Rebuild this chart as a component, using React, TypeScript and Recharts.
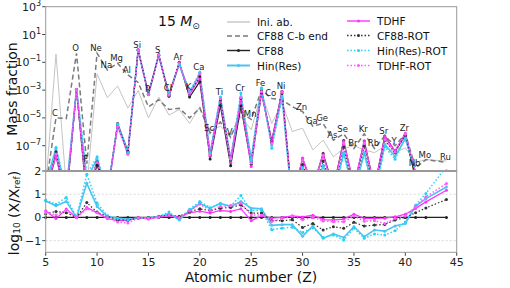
import React from 'react';
import { LineChart, Line, XAxis, YAxis, ReferenceLine, LabelList } from 'recharts';

// atomic numbers shown on the x axis
const Z = [5, 6, 7, 8, 9, 10, 11, 12, 13, 14, 15, 16, 17, 18, 19, 20, 21, 22, 23, 24,
  25, 26, 27, 28, 29, 30, 31, 32, 33, 34, 35, 36, 37, 38, 39, 40, 41, 42, 43, 44];

// element labels ('' = not labelled)
const ELEMENTS = ['', 'C', '', 'O', 'F', 'Ne', 'Na', 'Mg', 'Al', 'Si', 'P', 'S', 'Cl', 'Ar', 'K', 'Ca',
  'Sc', 'Ti', 'V', 'Cr', 'Mn', 'Fe', 'Co', 'Ni', '', 'Zn', 'Ga', 'Ge', 'As', 'Se', 'Br', 'Kr', 'Rb',
  'Sr', 'Y', 'Zr', 'Nb', 'Mo', '', 'Ru'];

// log10 mass fraction, initial abundances
const INI_AB = [-10, -0.4, -10, -10, -10, -1.83, -3.54, -2.7, -4.3, -3.03, -5.0, -3.5, -4.8, -4.4, -5.4, -4.2,
  -5.9, -5.6, -6.3, -4.9, -5.86, -3.2, -5.4, -3.94, -5.98, -5.74, -7.3, -6.6, -7.8, -7.2, -7.0, -7.3, -7.5,
  -7.05, -7.5, -7.15, -8.2, -8.0, null, -8.1];

// log10 mass fraction, CF88 at end of C burning
const CB_END = [-10, -5.0, -5.05, -0.35, -8.3, -0.35, -1.55, -1.07, -1.9, -2.45, -4.2, -3.7, -4.4, -4.3, -5.0, -4.3,
  -6.1, -5.3, -6.4, -4.6, -5.1, -3.0, -3.6, -3.7, -4.2, -4.55, -5.6, -5.4, -6.6, -6.15, -7.2, -6.15, -7.2,
  -6.3, -7.0, -6.15, -8.6, -8.0, null, -8.2];

// log10 mass fraction, CF88 reference run
const CF88 = [-10.5, -7.7, -11, -2.95, -10.9, -8.4, -10.5, -5.4, -7.4, -0.1, -3.27, -0.5, -3.45, -1.05, -3.5, -2.4,
  -7.95, -4.1, -8.45, -4.15, -8.36, -3.2, -6.65, -3.1, -11, -7.92, -10, -7.56, -10, -6.63, -10, -6.66, -10,
  -6.31, -7.4, -6.24, -9.4, -11, null, -11];

// log10(X / X_ref) for each rate set (reference = CF88)
const HIN = [0.71, 0.5, 0.69, 0, 1.47, 0.47, 0.04, -0.03, -0.08, -0.03, -0.02, 0.03, 0.16, -0.11, 0.3, 0.6,
  0.4, 0.61, 0.47, 0.69, 0.4, 0.37, -0.34, -0.31, -0.31, -0.81, -0.37, -0.9, -0.71, -0.86, -0.4, -0.83, -0.54,
  -0.59, -0.37, -0.26, 0.49, 0.81, null, 1.31];
const TDHF = [0.29, -0.05, 0.36, 0, 0.43, 0.21, -0.05, -0.14, -0.14, 0, -0.07, 0.02, 0.08, 0.03, 0.2, 0.27,
  0.19, 0.3, 0.26, 0.37, -0.14, 0.07, -0.03, 0, 0.07, 0.02, 0.1, -0.09, -0.11, -0.07, 0.14, -0.04, -0.04,
  -0.03, 0.03, 0.14, 0.39, 0.67, null, 1.17];
const CF88_ROT = [0.15, 0.26, 0.2, 0, 0.64, 0.23, 0.05, -0.1, -0.11, -0.03, -0.02, 0.05, 0.1, 0.05, 0.25, 0.37,
  0.29, 0.4, 0.43, 0.54, 0.19, 0.19, -0.14, -0.14, -0.1, -0.43, -0.26, -0.54, -0.4, -0.47, -0.21, -0.37, -0.33,
  -0.3, -0.11, 0, 0.2, 0.41, null, 0.77];
const HIN_ROT = [0.75, 0.57, 0.86, 0, 1.86, 0.61, 0.08, -0.05, -0.1, -0.03, -0.02, 0.03, 0.23, -0.08, 0.35, 0.69,
  0.42, 0.58, 0.5, 0.94, 0.3, 0.3, -0.53, -0.46, -0.42, -0.65, -0.45, -0.85, -0.75, -0.97, -0.45, -0.9, -0.71,
  -0.76, -0.57, -0.2, 0.53, 1.03, null, 2.2];
const TDHF_ROT = [0.2, 0.11, 0.3, 0, 0.37, 0.2, 0, -0.2, -0.24, -0.02, -0.04, 0.02, 0.1, 0, 0.28, 0.57,
  0.3, 0.47, 0.51, 0.61, 0.11, 0.1, -0.17, -0.05, 0.05, -0.1, 0, -0.15, -0.18, -0.19, 0.06, -0.16, -0.14,
  -0.26, -0.05, 0.06, 0.45, 0.89, null, 1.46];

const X_TICKS = [5, 10, 15, 20, 25, 30, 35, 40, 45];
const TOP_TICKS = [1e3, 1e1, 1e-1, 1e-3, 1e-5, 1e-7];
const RATIO_TICKS = [-1, 0, 1, 2];
const LOG_LO = Math.pow(10, -8.82);

const C = {
  ini: '#c4c4c4', cb: '#7a7a7a', cf88: '#222222', hin: '#4fc3f0',
  tdhf: '#ff33ff', cf88rot: '#333333', hinrot: '#22d4f6', tdhfrot: '#ff5cff',
};
const FONT = 'DejaVu Sans';

const pw = (v) => (v == null ? null : Math.pow(10, v));

const topData = Z.map((z, i) => {
  const base = CF88[i];
  const rel = (r) => (base == null || r[i] == null ? null : base + r[i]);
  const vals = [base, rel(HIN), rel(TDHF), rel(CF88_ROT), rel(HIN_ROT), rel(TDHF_ROT), CB_END[i]]
    .filter((v) => v != null);
  const top = vals.length ? Math.max(...vals) : null;
  return {
    z,
    name: ELEMENTS[i],
    ini: pw(INI_AB[i]),
    cb: pw(CB_END[i]),
    cf88: pw(base),
    hin: pw(rel(HIN)),
    tdhf: pw(rel(TDHF)),
    cf88rot: pw(rel(CF88_ROT)),
    hinrot: pw(rel(HIN_ROT)),
    tdhfrot: pw(rel(TDHF_ROT)),
    lab: ELEMENTS[i] ? pw(top) : null,
  };
});

const ratioData = Z.map((z, i) => ({
  z,
  cf88: CF88[i] == null ? null : 0,
  hin: HIN[i], tdhf: TDHF[i], cf88rot: CF88_ROT[i], hinrot: HIN_ROT[i], tdhfrot: TDHF_ROT[i],
}));

const PowTick = (props) => {
  const { x, y, payload } = props;
  const e = Math.round(Math.log10(payload.value));
  return (
    <text x={x} y={y} dy={4} textAnchor="end" fontSize={11} fill="#222" fontFamily={FONT}>
      <tspan>10</tspan>
      <tspan dy={-5} fontSize={8}>{e < 0 ? '\u2212' + -e : String(e)}</tspan>
    </text>
  );
};

const ElementLabel = (props) => {
  const x = props.x ?? props.viewBox?.x;
  const y = props.y ?? props.viewBox?.y;
  if (!props.value || x == null || y == null) return null;
  return (
    <text x={x - 1} y={y - 2} textAnchor="middle" fontSize={8.5} fill="#222" fontFamily={FONT}>
      {props.value}
    </text>
  );
};

const dot = (color) => ({ r: 1.5, fill: color, stroke: color, strokeWidth: 0 });

const modelLines = [
  { key: 'cf88', color: C.cf88, dash: undefined, w: 1.2 },
  { key: 'hin', color: C.hin, dash: undefined, w: 1.6 },
  { key: 'tdhf', color: C.tdhf, dash: undefined, w: 1.3 },
  { key: 'cf88rot', color: C.cf88rot, dash: '1.5 2', w: 1.2 },
  { key: 'hinrot', color: C.hinrot, dash: '1.5 2', w: 1.5 },
  { key: 'tdhfrot', color: C.tdhfrot, dash: '1.5 2', w: 1.5 },
];

const legendRows = [
  { label: 'Ini. ab.', color: C.ini, dash: undefined, marker: false, x: 227, y: 22 },
  { label: 'CF88 C-b end', color: C.cb, dash: '5 3', marker: false, x: 227, y: 36 },
  { label: 'CF88', color: C.cf88, dash: undefined, marker: true, x: 227, y: 50.5 },
  { label: 'Hin(Res)', color: C.hin, dash: undefined, marker: true, x: 227, y: 65.5 },
  { label: 'TDHF', color: C.tdhf, dash: undefined, marker: true, x: 347, y: 21 },
  { label: 'CF88-ROT', color: C.cf88rot, dash: '1.5 2', marker: true, x: 347, y: 35.5 },
  { label: 'Hin(Res)-ROT', color: C.hinrot, dash: '1.5 2', marker: true, x: 347, y: 50.5 },
  { label: 'TDHF-ROT', color: C.tdhfrot, dash: '1.5 2', marker: true, x: 347, y: 65.5 },
];

export default function App() {
  return (
    <div style={{ position: 'absolute', left: 0, top: 0, width: 510, height: 288, background: '#fff' }}>
      <div style={{ position: 'absolute', left: 0, top: 0 }}>
        <LineChart width={510} height={171} data={topData} margin={{ top: 6.7, right: 53.3, bottom: 0, left: 0 }}>
          <XAxis dataKey="z" type="number" domain={[5, 45]} hide />
          <YAxis
            scale="log"
            type="number"
            domain={[LOG_LO, 1000]}
            allowDataOverflow
            ticks={TOP_TICKS}
            width={45.7}
            tick={<PowTick />}
            tickSize={3.5}
            tickMargin={1}
            axisLine={false}
            tickLine={{ stroke: '#444' }}
            interval={0}
          />
          <Line dataKey="ini" stroke={C.ini} strokeWidth={1} dot={false} connectNulls isAnimationActive={false} />
          <Line dataKey="cb" stroke={C.cb} strokeWidth={1.5} strokeDasharray="5 3" dot={false} connectNulls isAnimationActive={false} />
          {modelLines.map((s) => (
            <Line key={s.key} dataKey={s.key} stroke={s.color} strokeWidth={s.w} strokeDasharray={s.dash}
              dot={dot(s.color)} connectNulls isAnimationActive={false} />
          ))}
          <Line dataKey="lab" stroke="none" dot={false} isAnimationActive={false}>
            <LabelList dataKey="name" content={ElementLabel} />
          </Line>
        </LineChart>
      </div>
      <div style={{ position: 'absolute', left: 0, top: 163 }}>
        <LineChart width={510} height={125} data={ratioData} margin={{ top: 8, right: 53.3, bottom: 0, left: 0 }}>
          <XAxis
            dataKey="z"
            type="number"
            domain={[5, 45]}
            ticks={X_TICKS}
            interval={0}
            height={35.7}
            tickSize={3.5}
            tickMargin={2}
            axisLine={false}
            tickLine={{ stroke: '#444' }}
            tick={{ fontSize: 11, fill: '#222', fontFamily: FONT }}
          />
          <YAxis
            type="number"
            domain={[-1.5, 2]}
            allowDataOverflow
            ticks={RATIO_TICKS}
            interval={0}
            width={45.7}
            tickSize={3.5}
            tickMargin={1}
            axisLine={false}
            tickLine={{ stroke: '#444' }}
            tickFormatter={(v) => (v < 0 ? '\u2212' + -v : String(v))}
            tick={{ fontSize: 11, fill: '#222', fontFamily: FONT }}
          />
          <ReferenceLine y={1} stroke="#cfcfcf" strokeDasharray="2 2" strokeWidth={0.8} />
          <ReferenceLine y={-1} stroke="#cfcfcf" strokeDasharray="2 2" strokeWidth={0.8} />
          {modelLines.map((s) => (
            <Line key={s.key} dataKey={s.key} stroke={s.color} strokeWidth={s.w} strokeDasharray={s.dash}
              dot={dot(s.color)} connectNulls isAnimationActive={false} />
          ))}
        </LineChart>
      </div>
      <svg width={510} height={288} style={{ position: 'absolute', left: 0, top: 0, pointerEvents: 'none' }}>
        <rect x={45.7} y={6.7} width={411} height={164.3} fill="none" stroke="#999" strokeWidth={1} />
        <rect x={45.7} y={171} width={411} height={81.3} fill="none" stroke="#999" strokeWidth={1} />
        <line x1={45.7} x2={456.7} y1={171} y2={171} stroke="#999" strokeWidth={2} />
        <text x={158} y={26} fontSize={14} fill="#111" fontFamily={FONT}>
          <tspan>15 </tspan>
          <tspan fontStyle="italic">M</tspan>
          <tspan fontSize={9} dy={3}>{'\u2299'}</tspan>
        </text>
        {legendRows.map((r) => (
          <g key={r.label}>
            <line x1={r.x} x2={r.x + 23} y1={r.y} y2={r.y} stroke={r.color} strokeWidth={r.label === 'Hin(Res)' ? 2 : 1.4} strokeDasharray={r.dash} />
            {r.marker && <circle cx={r.x + 11.5} cy={r.y} r={1.5} fill={r.color} />}
            <text x={r.x + 30} y={r.y + 4} fontSize={10.5} fill="#111" fontFamily={FONT}>{r.label}</text>
          </g>
        ))}
        <text x={12} y={89} transform="rotate(-90 12 89)" textAnchor="middle" dominantBaseline="central" fontSize={14} fill="#111" fontFamily={FONT}>
          Mass fraction
        </text>
        <text x={14} y={213} transform="rotate(-90 14 213)" textAnchor="middle" dominantBaseline="central" fontSize={14} fill="#111" fontFamily={FONT}>
          <tspan>log</tspan>
          <tspan fontSize={9} dy={3}>10</tspan>
          <tspan dy={-3}>{' (X/X'}</tspan>
          <tspan fontSize={9} dy={3}>ref</tspan>
          <tspan dy={-3}>)</tspan>
        </text>
        <text x={251} y={282} textAnchor="middle" fontSize={14} fill="#111" fontFamily={FONT}>
          Atomic number (Z)
        </text>
      </svg>
    </div>
  );
}
